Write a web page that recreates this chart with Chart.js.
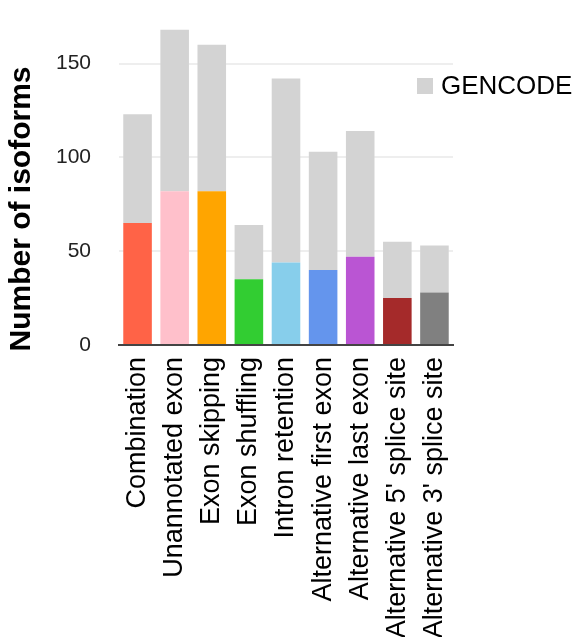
<!DOCTYPE html>
<html>
<head>
<meta charset="utf-8">
<script src="https://cdn.jsdelivr.net/npm/chart.js@4/dist/chart.umd.min.js"></script>
<style>
  html, body { margin: 0; padding: 0; background: #fff; }
  #wrap { position: relative; width: 577px; height: 637px; overflow: hidden; }
  canvas { display: block; }
  #legend {
    position: absolute; left: 417px; top: 70px;
    font: 26px "Liberation Sans", Arial, sans-serif; color: #000;
    display: flex; align-items: center; white-space: nowrap;
  }
  #legend .box { width: 16px; height: 16px; background: #d3d3d3; margin-right: 8px; }
</style>
</head>
<body>
<div id="wrap">
  <canvas id="c" width="577" height="637"></canvas>
  <div id="legend"><span class="box"></span><span>GENCODE</span></div>
</div>
<script>
// Isoform categories on the x axis
const categories = [
  "Combination", "Unannotated exon", "Exon skipping", "Exon shuffling",
  "Intron retention", "Alternative first exon", "Alternative last exon",
  "Alternative 5' splice site", "Alternative 3' splice site"
];
// Lower (coloured) segment per category
const categoryCounts = [65, 82, 82, 35, 44, 40, 47, 25, 28];
// Upper grey GENCODE segment per category
const gencodeCounts = [58, 86, 78, 29, 98, 63, 67, 30, 25];
const categoryColors = [
  "#FF6347", "#FFC0CB", "#FFA500", "#32CD32", "#87CEEB",
  "#6495ED", "#BA55D3", "#A52A2A", "#808080"
];
const yTicks = [0, 50, 100, 150];

const FONT = '"Liberation Sans", Arial, sans-serif';

// Rotated y-axis title, placed a little below the plot centre
const yTitlePlugin = {
  id: 'yTitle',
  afterDraw(chart) {
    const ctx = chart.ctx;
    ctx.save();
    ctx.translate(22, 209);
    ctx.rotate(-Math.PI / 2);
    ctx.font = 'bold 30px ' + FONT;
    ctx.fillStyle = '#000';
    ctx.textAlign = 'center';
    ctx.textBaseline = 'middle';
    ctx.fillText('Number of isoforms', 0, 0);
    ctx.restore();
  }
};

new Chart(document.getElementById('c'), {
  type: 'bar',
  data: {
    labels: categories,
    datasets: [
      {
        label: 'Category',
        data: categoryCounts,
        backgroundColor: categoryColors,
        borderWidth: 0
      },
      {
        label: 'GENCODE',
        data: gencodeCounts,
        backgroundColor: '#d3d3d3',
        borderWidth: 0
      }
    ]
  },
  options: {
    responsive: false,
    animation: false,
    layout: { padding: { top: 26, right: 124, left: 0, bottom: 0 } },
    datasets: { bar: { categoryPercentage: 1, barPercentage: 0.77 } },
    plugins: {
      legend: { display: false },
      tooltip: { enabled: false }
    },
    scales: {
      x: {
        stacked: true,
        grid: { display: false, drawTicks: false },
        border: { display: true, color: '#444', width: 2 },
        ticks: {
          minRotation: 90, maxRotation: 90, autoSkip: false,
          padding: 12, color: '#000',
          font: { family: FONT, size: 27 }
        },
        afterFit(scale) { scale.height = 292; }
      },
      y: {
        stacked: true,
        min: 0, max: 170,
        afterBuildTicks(scale) { scale.ticks = yTicks.map(v => ({ value: v })); },
        grid: {
          color: '#eeeeee', lineWidth: 2,
          drawTicks: true, tickLength: 25, tickColor: 'rgba(0,0,0,0)'
        },
        border: { display: false },
        ticks: {
          padding: 3, color: '#222',
          font: { family: FONT, size: 21 }
        },
        afterFit(scale) { scale.width = 119; }
      }
    }
  },
  plugins: [yTitlePlugin]
});
</script>
</body>
</html>
